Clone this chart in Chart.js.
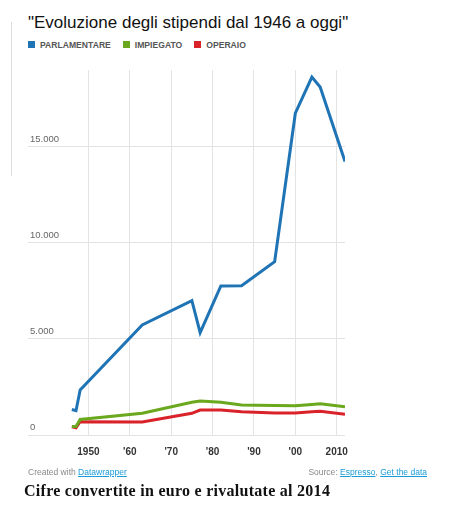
<!DOCTYPE html>
<html>
<head>
<meta charset="utf-8">
<script src="https://cdn.jsdelivr.net/npm/chart.js@4.4.1/dist/chart.umd.min.js"></script>
<style>
  html, body { margin: 0; padding: 0; background: #fff; }
  body { width: 459px; height: 506px; position: relative; overflow: hidden; font-family: 'Liberation Sans', Arial, sans-serif; }
  .barra { position: absolute; left: 11px; top: 22px; width: 1px; height: 154px; background: #dddddd; }
  h1 { position: absolute; left: 28px; top: 11px; margin: 0; font-size: 17px; font-weight: normal; color: #111; line-height: 24px; white-space: nowrap; }
  #legenda { position: absolute; left: 28px; top: 38.5px; font-size: 8.6px; font-weight: bold; color: #555; white-space: nowrap; }
  #legenda span { display: inline-block; margin-right: 12px; line-height: 12px; }
  #legenda i { display: inline-block; width: 7px; height: 7px; margin-right: 5px; vertical-align: -0.5px; }
  #grafico { position: absolute; left: 0; top: 60px; width: 459px; height: 410px; }
  .piede { position: absolute; top: 467px; font-size: 8.5px; color: #888; white-space: nowrap; }
  .piede a { color: #1a9ad6; text-decoration: underline; }
  .didascalia { position: absolute; left: 24px; top: 482px; margin: 0; font-family: 'Liberation Serif', 'DejaVu Serif', serif; font-weight: bold; font-size: 16px; letter-spacing: 0.27px; color: #111; white-space: nowrap; }
</style>
</head>
<body>
<div class="barra"></div>
<h1>"Evoluzione degli stipendi dal 1946 a oggi"</h1>
<div id="legenda"></div>
<div id="grafico"><canvas id="lineChart"></canvas></div>
<div class="piede" style="left:28px">Created with <a>Datawrapper</a></div>
<div class="piede" style="right:32px">Source: <a>Espresso</a>, <a>Get the data</a></div>
<div class="didascalia">Cifre convertite in euro e rivalutate al 2014</div>

<script>
// ── Dati ──
const anni = [1946, 1947, 1948, 1963, 1975, 1977, 1982, 1987, 1995, 2000, 2004, 2006, 2012];
const parlamentare = [1330, 1265, 2340, 5730, 6995, 5330, 7760, 7775, 9025, 16750, 18630, 18110, 14235];
const impiegato = [445, 445, 805, 1130, 1700, 1770, 1700, 1565, 1535, 1520, 1590, 1630, 1475];
const operaio = [425, 375, 690, 675, 1130, 1300, 1300, 1215, 1145, 1145, 1205, 1235, 1080];

const nomiSerie = ["PARLAMENTARE", "IMPIEGATO", "OPERAIO"];
const coloriSerie = ["#1f74b6", "#6aa81d", "#d9222a"];
const tickAnni = [1950, 1960, 1970, 1980, 1990, 2000, 2010];
const tickValori = [0, 5000, 10000, 15000];

// ── Legenda in HTML ──
const legenda = document.getElementById("legenda");
nomiSerie.forEach((nome, i) => {
  const s = document.createElement("span");
  s.innerHTML = `<i style="background:${coloriSerie[i]}"></i>${nome}`;
  legenda.appendChild(s);
});

Chart.defaults.font.family = "'Liberation Sans', Arial, sans-serif";

const serie = [parlamentare, impiegato, operaio];
const ctx = document.getElementById("lineChart").getContext("2d");

new Chart(ctx, {
  type: "line",
  data: {
    datasets: serie.map((valori, i) => ({
      label: nomiSerie[i],
      data: anni.map((a, j) => ({ x: a, y: valori[j] })),
      borderColor: coloriSerie[i],
      borderWidth: 3,
      pointRadius: 0,
      tension: 0,
      fill: false,
    })),
  },
  options: {
    responsive: true,
    maintainAspectRatio: false,
    animation: false,
    layout: { padding: { left: 24, right: 114, top: 10, bottom: 0 } },
    plugins: {
      legend: { display: false },
      tooltip: { enabled: false },
    },
    scales: {
      x: {
        type: "linear",
        min: 1935.4,
        max: 2012,
        afterBuildTicks: (scale) => {
          scale.ticks = tickAnni.map((v) => ({ value: v }));
        },
        grid: { color: "#e3e3e3", drawTicks: false },
        border: { display: false },
        ticks: {
          padding: 11.5,
          color: "#333",
          font: { size: 10, weight: "bold" },
          maxRotation: 0,
          callback: (v) => (v === 1950 || v === 2010 ? String(v) : "'" + String(v).slice(2)),
        },
      },
      y: {
        min: 0,
        max: 19000,
        afterBuildTicks: (scale) => {
          scale.ticks = tickValori.map((v) => ({ value: v }));
        },
        grid: { color: "#e3e3e3", drawTicks: false },
        border: { display: false },
        ticks: {
          mirror: true,
          padding: 2,
          labelOffset: -7.5,
          color: "#666",
          font: { size: 9.5 },
          callback: (v) => v.toLocaleString("it-IT"),
        },
      },
    },
  },
});
</script>
</body>
</html>
